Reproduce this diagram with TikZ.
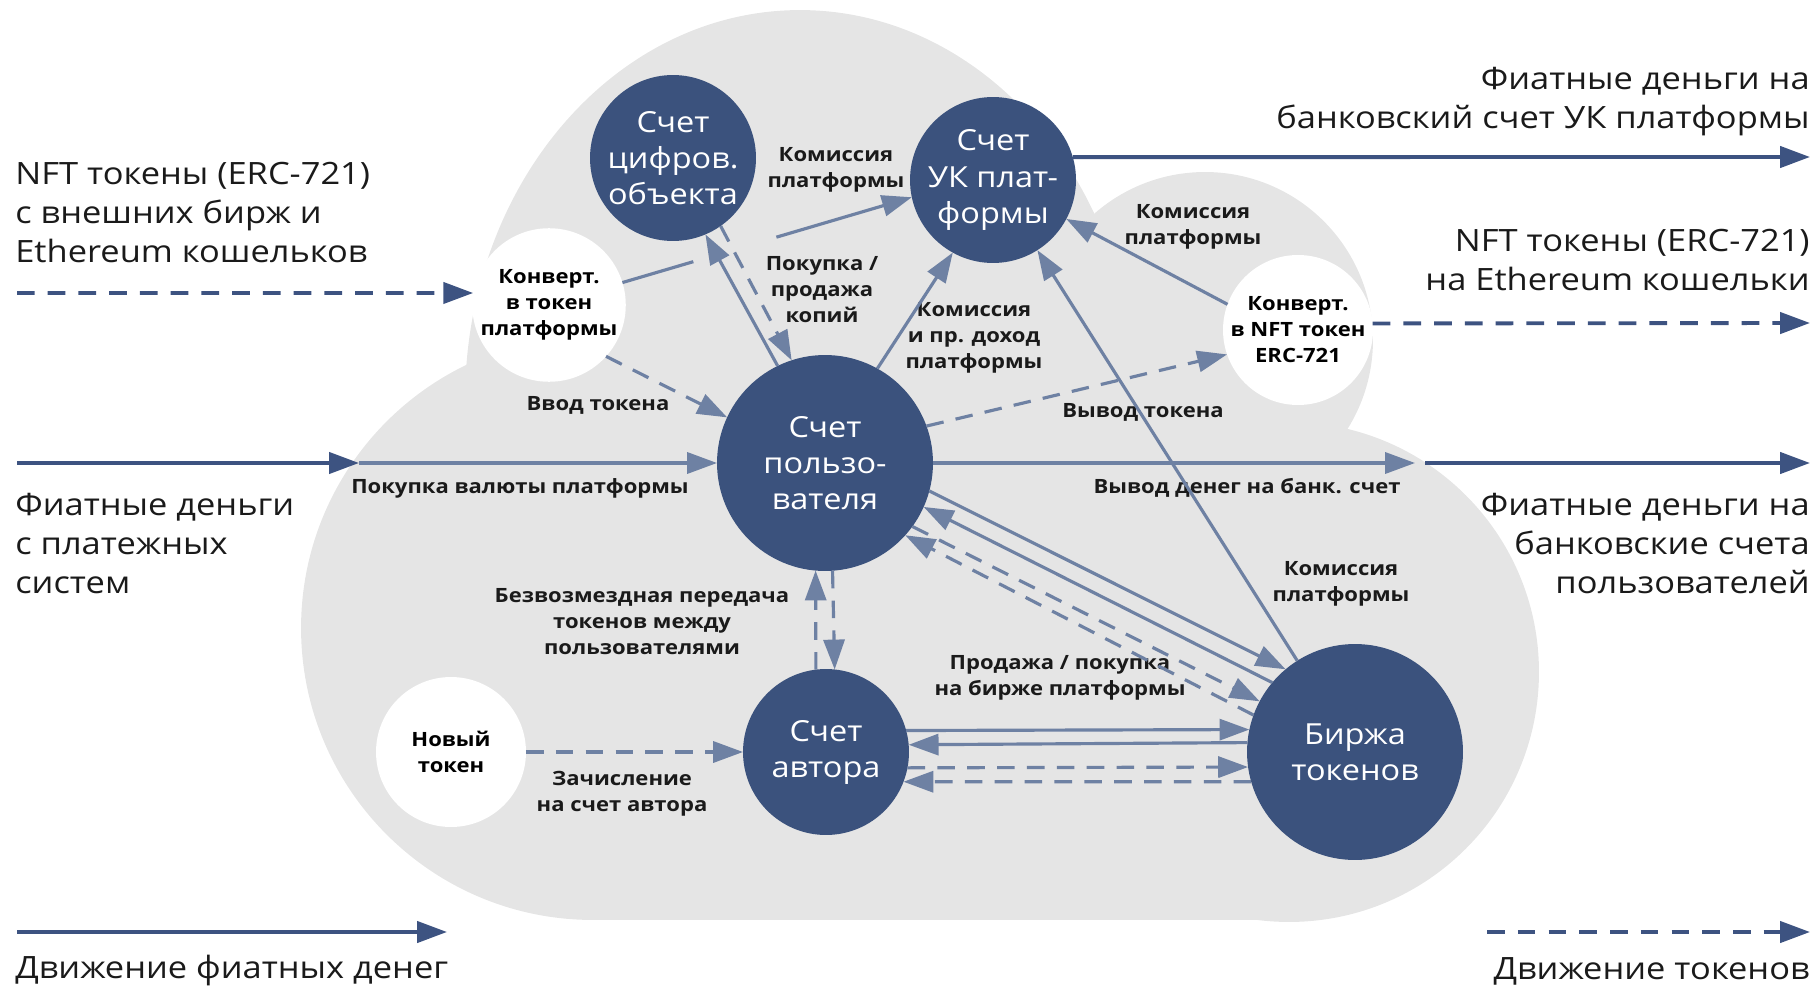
\documentclass[tikz,border=0pt]{standalone}
\usepackage{fontspec}
\setmainfont{Open Sans}[FakeStretch=1.12]
\usepackage{tikz}
\usetikzlibrary{arrows.meta,positioning}
\definecolor{acct}{HTML}{3B527D}
\definecolor{flow}{HTML}{6E81A3}
\definecolor{extflow}{HTML}{3D5381}
\definecolor{cloudgray}{HTML}{E5E5E5}
\definecolor{ink}{HTML}{1A1A1A}

\begin{document}
\begin{tikzpicture}[x=0.02cm,y=-0.02cm,
		acc/.style={shape=circle,fill=acct,text=white,inner sep=0,outer sep=0,align=center,
			font=\fontsize{16.5}{20.5}\selectfont},
		conv/.style={shape=circle,fill=white,inner sep=0,outer sep=0,minimum size=3cm,align=center,
			font=\bfseries\fontsize{11.2}{14.8}\selectfont},
		lbl/.style={align=center,inner sep=1pt,text=ink,font=\bfseries\fontsize{11.2}{14.8}\selectfont},
		outtxt/.style={inner sep=0,text=ink,font=\fontsize{17.5}{22.2}\selectfont},
		money/.style={-{Triangle[length=17pt,width=12pt]},line width=1.8pt,color=flow},
		token/.style={money,dash pattern=on 10pt off 7pt},
		extmoney/.style={money,color=extflow,line width=2.2pt},
		exttoken/.style={extmoney,dash pattern=on 10pt off 7.5pt}]
		\useasboundingbox (0,0) rectangle (1814,986);
		% the cloud
		\fill[cloudgray] (800,400) ellipse [x radius=6.7cm,y radius=7.8cm];
		\fill[cloudgray] (1205,340) circle [radius=3.36cm];
		\fill[cloudgray] (593,628) circle [radius=5.84cm];
		\fill[cloudgray] (1289,672) circle [radius=5cm];
		\fill[cloudgray] (593,620) rectangle (1289,920);

		% accounts
		\node(obj) [acc,minimum size=3.32cm] at (673,158) {Счет\\цифров.\\объекта};
		\node(uk) [acc,minimum size=3.32cm] at (993,180) {Счет\\УК плат-\\формы};
		\node(user) [acc,minimum size=4.32cm] at (825,463) {Счет\\пользо-\\вателя};
		\node(author) [acc,minimum size=3.32cm] at (826,752) {Счет\\автора};
		\node(exch) [acc,minimum size=4.32cm] at (1355,752) {Биржа\\токенов};
		\node(conv1) [conv] at (549,305) {Конверт.\\в токен\\платформы};
		\node(conv2) [conv] at (1298,330) {Конверт.\\в NFT токен\\ERC-721};
		\node(newtok) [conv] at (451,752) {Новый\\токен};

		% labels
		\node(feeobj) [lbl] at (836,170) {Комиссия\\платформы};
		\node(copies) [lbl] at (822,290) {Покупка /\\продажа\\копий};
		\node(feeuser) [lbl] at (974,338) {Комиссия\\и пр. доход\\платформы};
		\node(feeconv) [lbl] at (1193,227) {Комиссия\\платформы};
		\node(feeexch) [lbl] at (1341,584) {Комиссия\\платформы};
		\node(tokin) [lbl] at (598,405) {Ввод токена};
		\node(tokout) [lbl] at (1143,412) {Вывод токена};
		\node(buycur) [lbl] at (520,488) {Покупка валюты платформы};
		\node(withdraw) [lbl] at (1247,488) {Вывод денег на банк. счет};
		\node(gift) [lbl] at (642,622) {Безвозмездная передача\\токенов между\\пользователями};
		\node(credit) [lbl] at (622,794) {Зачисление\\на счет автора};
		\node(trade) [lbl] at (1060,678) {Продажа / покупка\\на бирже платформы};

		% outside texts
		\node(nftsrc) [outtxt,anchor=west,align=left] at (15,213) {NFT токены (ERC-721)\\с внешних бирж и\\Ethereum кошельков};
		\node(fiatsrc) [outtxt,anchor=west,align=left] at (15,544) {Фиатные деньги\\с платежных\\систем};
		\node(ukdst) [outtxt,anchor=east,align=right] at (1810,102) {Фиатные деньги на\\банковский счет УК платформы};
		\node(nftdst) [outtxt,anchor=east,align=right] at (1810,260) {NFT токены (ERC-721)\\на Ethereum кошельки};
		\node(bankdst) [outtxt,anchor=east,align=right] at (1810,544) {Фиатные деньги на\\банковские счета\\пользователей};
		\node(legmoney) [outtxt,anchor=west] at (15,971) {Движение фиатных денег};
		\node(legtoken) [outtxt,anchor=east] at (1810,971) {Движение токенов};

		% free ends
		\coordinate (nftin) at (17,293);
		\coordinate (fiatin) at (17,463);
		\coordinate (fiatgate) at (359,463);
		\coordinate (ukout) at (1810,157);
		\coordinate (nftout) at (1810,323);
		\coordinate (bankgate) at (1415,463);
		\coordinate (bankfrom) at (1425,463);
		\coordinate (bankout) at (1810,463);
		\coordinate (legm1) at (17,932);
		\coordinate (legm2) at (447,932);
		\coordinate (legt1) at (1487,932);
		\coordinate (legt2) at (1810,932);

		% flows in and out
		\draw[exttoken] (nftin) -- (conv1.171);
		\draw[extmoney] (fiatin) -- (fiatgate);
		\draw[money] (fiatgate) -- (user.west);
		\draw[extmoney] (uk.16) -- (ukout);
		\draw[exttoken] (conv2.5) -- (nftout);
		\draw[money] (user.east) -- (bankgate);
		\draw[extmoney] (bankfrom) -- (bankout);
		\draw[extmoney] (legm1) -- (legm2);
		\draw[exttoken] (legt1) -- (legt2);

		% flows inside
		\path (conv1.17) -- (uk.-168) coordinate[pos=0.245] (gapA) coordinate[pos=0.532] (gapB);
		\draw[money,-] (conv1.17) -- (gapA);
		\draw[money] (gapB) -- (uk.-168);
		\draw[money] (user.116) -- (obj.-67);
		\draw[token] (obj.-55) -- (user.108);
		\draw[money] (user.61) -- (uk.-119);
		\draw[money] (conv2.160) -- (uk.-28);
		\draw[money] (exch) -- (uk);
		\draw[token] (conv1.-42) -- (user.155);
		\draw[token] (user.20) -- (conv2.199);
		\draw[token] (author.97) -- (user.265);
		\draw[token] (user.-86) -- (author.84);
		\draw[token] (newtok) -- (author);
		\draw[money] (user.-15) -- (exch.130);
		\draw[money] (exch.140) -- (user.-24);
		\draw[token] (user.-36) -- (exch.152);
		\draw[token] (exch.160) -- (user.-42);
		\draw[money] (author.15.4) -- (exch.168.25);
		\draw[money] (exch.175.75) -- (author.5.5);
		\draw[token] (author.-11.1) -- (exch.188.5);
		\draw[token] (exch.196.1) -- (author.-21.2);
	\end{tikzpicture}
\end{document}
